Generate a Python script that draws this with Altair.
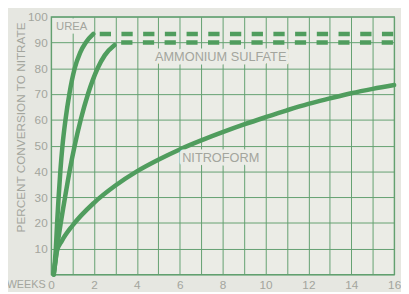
import altair as alt
import pandas as pd

# ---- data ----
week_ticks = list(range(0, 17))
pct_ticks = list(range(0, 101, 10))

urea_w = [0.12, 0.22, 0.28, 0.35, 0.43, 0.53, 0.67, 0.85, 1.1, 1.35, 1.62, 1.97]
urea_v = [0, 10, 20, 30, 40, 50, 60, 70, 80, 86, 90, 93.3]

amsul_w = [0.12, 0.27, 0.45, 0.65, 0.86, 1.1, 1.38, 1.72, 2.17, 2.5, 2.96]
amsul_v = [0, 10, 20, 30, 40, 50, 60, 70, 80, 85, 89]

nitro_w = [0.12, 0.2, 0.27, 0.5, 1, 2, 3, 4, 5, 6, 7, 8, 9, 10, 11, 12, 13, 14, 15, 16]
nitro_v = [0, 5, 9, 13, 19, 27.8, 34.5, 40, 44.5, 48.5, 52, 55.2, 58.2, 61,
           63.7, 66.2, 68.3, 70.3, 72, 73.5]

urea_plateau_w = [2, 16]
urea_plateau_v = [93.3, 93.3]
amsul_plateau_w = [3, 16]
amsul_plateau_v = [90, 90]

label_text = ["UREA", "AMMONIUM SULFATE", "NITROFORM"]
label_w = [0.96, 7.91, 7.91]
label_v = [95.8, 84.4, 45.2]

# ---- styles ----
BG = "#e6e7e1"
PLOT_BG = "#ebece6"
GRID = "#62a070"
LINE = "#509d5e"
TEXT = "#a3a59d"
FONT = "Liberation Sans"

curves = pd.concat([
    pd.DataFrame({"w": urea_w, "v": urea_v, "s": "urea"}),
    pd.DataFrame({"w": amsul_w, "v": amsul_v, "s": "amsul"}),
    pd.DataFrame({"w": nitro_w, "v": nitro_v, "s": "nitro"}),
], ignore_index=True)

plateaus = pd.concat([
    pd.DataFrame({"w": urea_plateau_w, "v": urea_plateau_v, "s": "urea"}),
    pd.DataFrame({"w": amsul_plateau_w, "v": amsul_plateau_v, "s": "amsul"}),
], ignore_index=True)

labels = pd.DataFrame({"t": label_text, "w": label_w, "v": label_v})

xscale = alt.Scale(domain=[0, 16], nice=False, zero=False)
yscale = alt.Scale(domain=[0, 100], nice=False)

xaxis = alt.Axis(
    values=week_ticks,
    labelExpr="datum.value === 0 ? '\u00a0\u00a0\u00a00' : (datum.value % 2 === 0 ? datum.label : '')",
    grid=True, gridColor=GRID, gridWidth=1, gridOpacity=1,
    ticks=False, domain=False, labelOverlap=False,
    labelFont=FONT, labelFontSize=12, labelColor=TEXT,
    labelBaseline="middle", labelPadding=10, labelFlush=False,
    title="WEEKS", titleFont=FONT, titleFontSize=11, titleFontWeight="normal",
    titleColor=TEXT, titleX=-26, titleY=10, titleBaseline="middle", titleAlign="center",
)
yaxis = alt.Axis(
    values=pct_ticks,
    labelExpr="datum.value === 0 ? '' : datum.label",
    grid=True, gridColor=GRID, gridWidth=1, gridOpacity=1,
    ticks=False, domain=False, labelOverlap=False,
    labelFont=FONT, labelFontSize=12, labelColor=TEXT, labelPadding=4,
    title="PERCENT CONVERSION TO NITRATE", titleFont=FONT, titleFontSize=12,
    titleFontWeight="normal", titleColor=TEXT, titleX=-31, titleY=112.5,
    titleBaseline="middle", titleAlign="center", titleAngle=270,
)

X = alt.X("w:Q", scale=xscale, axis=xaxis)
Y = alt.Y("v:Q", scale=yscale, axis=yaxis)

size_rule = alt.condition(alt.datum.t == "UREA", alt.value(11.5), alt.value(13))

halo = alt.Chart(labels).mark_text(
    font=FONT, color=PLOT_BG, stroke=PLOT_BG, strokeWidth=7, strokeJoin="round"
).encode(x=X, y=Y, text="t:N", size=size_rule)

txt = alt.Chart(labels).mark_text(font=FONT, color=TEXT).encode(
    x=X, y=Y, text="t:N", size=size_rule
)

curve = alt.Chart(curves).mark_line(
    color=LINE, strokeWidth=4.6, interpolate="monotone", strokeCap="round", strokeJoin="round"
).encode(x=X, y=Y, detail="s:N", order="w:Q")

dash = alt.Chart(plateaus).mark_line(
    color=LINE, strokeWidth=4.6, strokeDash=[11.5, 10.65], strokeDashOffset=16.3,
    strokeCap="butt"
).encode(x=X, y=Y, detail="s:N")

chart = alt.layer(curve, halo, txt, dash).properties(
    width=350, height=263,
    autosize=alt.AutoSizeParams(type="none"),
    padding={"left": 44, "top": 6, "right": 7, "bottom": 15},
    background=BG,
).configure_view(
    fill=PLOT_BG, stroke=GRID, strokeWidth=1.3
)

chart.save("out.html", embed_options={"renderer": "svg", "actions": False})
